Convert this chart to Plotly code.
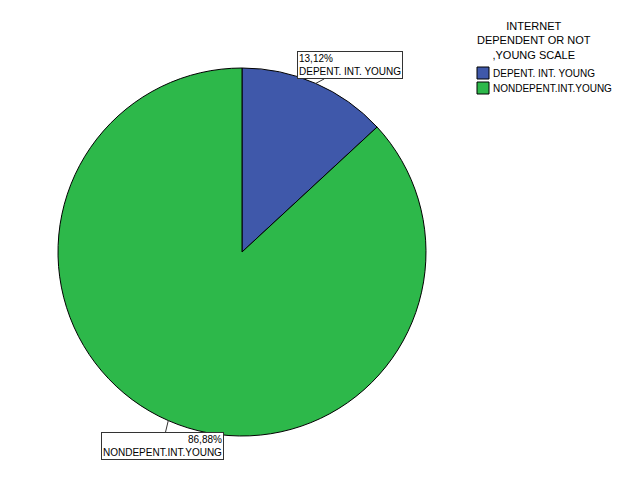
import math
import plotly.graph_objects as go

categories = ["DEPENT. INT. YOUNG", "NONDEPENT.INT.YOUNG"]
percent_values = [13.12, 86.88]
percent_labels = ["13,12%", "86,88%"]
colors = ["#3F58AA", "#2DB84A"]
legend_title = "INTERNET<br>DEPENDENT OR NOT<br>,YOUNG SCALE"

W, H = 629, 504
PAGE = 8  # default body margin of the html page
cx, cy, r = 242 - PAGE, 252 - PAGE, 184
FONT = "Liberation Sans, Arial"


def px_x(x):
    return (x - PAGE) / W


def px_y(y):
    return 1 - (y - PAGE) / H


fig = go.Figure(go.Pie(
    labels=categories,
    values=percent_values,
    sort=False,
    direction="clockwise",
    rotation=0,
    marker=dict(colors=colors, line=dict(color="black", width=1)),
    textinfo="none",
    hoverinfo="label+percent",
    showlegend=False,
    domain=dict(x=[(cx - r) / W, (cx + r) / W], y=[(H - cy - r) / H, (H - cy + r) / H]),
))

# label boxes with leader lines at each slice's mid angle
offsets = [(34, -18), (-6, 25)]
aligns = ["left", "right"]
total = sum(percent_values)
cum = 0
for i, v in enumerate(percent_values):
    mid = (cum + v / 2) / total * 2 * math.pi
    cum += v
    px = cx + r * math.sin(mid)
    py = cy - r * math.cos(mid)
    fig.add_annotation(
        x=px / W, y=1 - py / H, xref="paper", yref="paper",
        text=percent_labels[i] + "<br>" + categories[i],
        showarrow=True, arrowhead=0, arrowwidth=1, arrowcolor="#333",
        ax=offsets[i][0], ay=offsets[i][1],
        align=aligns[i],
        bgcolor="white", bordercolor="#333", borderwidth=1, borderpad=1,
        font=dict(family=FONT, size=10, color="black"),
    )

# legend (drawn manually to match the compact reference layout)
fig.add_annotation(
    x=px_x(534), y=px_y(18), xref="paper", yref="paper",
    xanchor="center", yanchor="top", showarrow=False,
    text=legend_title, align="center",
    font=dict(family=FONT, size=11, color="black"),
)
for i, cat in enumerate(categories):
    yc = 73 + 15 * i
    fig.add_shape(
        type="rect", xref="paper", yref="paper",
        x0=px_x(477), x1=px_x(489), y0=px_y(yc - 6), y1=px_y(yc + 6),
        fillcolor=colors[i], line=dict(color="black", width=1),
    )
    fig.add_annotation(
        x=px_x(491), y=px_y(yc), xref="paper", yref="paper",
        xanchor="left", yanchor="middle", showarrow=False,
        text=cat, font=dict(family=FONT, size=10, color="black"),
    )

fig.update_layout(
    width=W, height=H,
    margin=dict(l=0, r=0, t=0, b=0),
    paper_bgcolor="white",
    plot_bgcolor="white",
    showlegend=False,
)

fig.write_html("out.html")
